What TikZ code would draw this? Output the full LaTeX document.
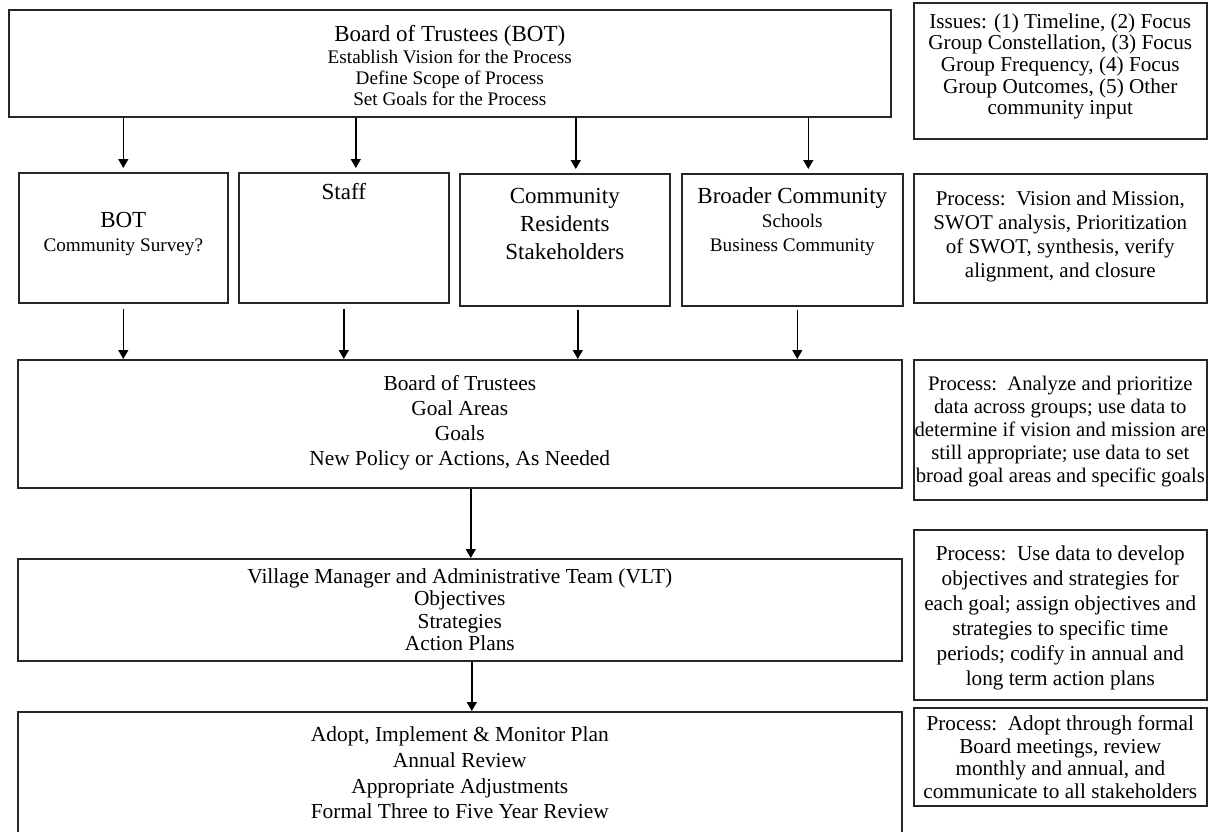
\documentclass[tikz,border=0pt]{standalone}
\usepackage{fontspec}
\setmainfont{Liberation Serif}
\usetikzlibrary{arrows.meta}
\newcommand{\headsize}{\fontsize{23}{28}\selectfont}
\begin{document}
\begin{tikzpicture}[
        x=1pt, y=-1pt,
        line width=1.6pt,
        every node/.style={align=center, inner sep=0pt},
        box/.style={draw=black!85, anchor=north west},
        wide/.style={box, minimum width=884pt, font=\fontsize{21.4}{24}\selectfont},
        group/.style={box, font=\fontsize{19.2}{24}\selectfont},
        note/.style={box, minimum width=293pt, font=\fontsize{21.2}{23}\selectfont},
        flow/.style={-{Triangle[length=9pt,width=10pt]}, draw=black, line width=1.4pt}
    ]
    \useasboundingbox (0,0) rectangle (1208,831);

    % board and the issues
    \node[box, minimum width=882pt, text height=96pt, text depth=11pt,
          font=\fontsize{19.2}{21}\selectfont] (trustees) at (8,9)
        {{\headsize Board of Trustees (BOT)}\\[1pt]
         Establish Vision for the Process\\
         Define Scope of Process\\
         Set Goals for the Process};
    \node[note, text height=112pt, text depth=24pt, font=\fontsize{21.2}{21.7}\selectfont] (issues) at (913,2)
        {Issues: (1) Timeline, (2) Focus\\
         Group Constellation, (3) Focus\\
         Group Frequency, (4) Focus\\
         Group Outcomes, (5) Other\\
         community input};

    % the four groups
    \node[group, minimum width=209pt, text height=79pt, text depth=51pt] (botgrp) at (18,172)
        {{\headsize BOT}\\ Community Survey?};
    \node[group, minimum width=210pt, text height=27pt, text depth=103pt] (staff) at (238,172)
        {{\headsize Staff}};
    \node[group, minimum width=210pt, text height=86pt, text depth=46pt,
          font=\fontsize{23}{28}\selectfont] (residents) at (459,173)
        {Community\\ Residents\\ Stakeholders};
    \node[group, minimum width=221pt, text height=78pt, text depth=54pt] (broader) at (681,173)
        {{\headsize Broader Community}\\ Schools\\ Business Community};
    \node[note, text height=104pt, text depth=25pt, font=\fontsize{21}{24}\selectfont] (proc1) at (913,173)
        {Process:\ \ Vision and Mission,\\
         SWOT analysis, Prioritization\\
         of SWOT, synthesis, verify\\
         alignment, and closure};

    % goals
    \node[wide, text height=106pt, text depth=22pt, font=\fontsize{21.4}{25}\selectfont] (goals) at (17,359)
        {Board of Trustees\\ Goal Areas\\ Goals\\ New Policy or Actions, As Needed};
    \node[note, text height=123pt, text depth=17pt, font=\fontsize{20.7}{23}\selectfont] (proc2) at (913,359)
        {Process:\ \ Analyze and prioritize\\
         data across groups; use data to\\
         determine if vision and mission are\\
         still appropriate; use data to set\\
         broad goal areas and specific goals};

    % objectives
    \node[wide, text height=92pt, text depth=10pt, font=\fontsize{21.4}{22.5}\selectfont] (vlt) at (17,558)
        {Village Manager and Administrative Team (VLT)\\ Objectives\\ Strategies\\ Action Plans};
    \node[note, text height=156pt, text depth=14pt, font=\fontsize{21.2}{25}\selectfont] (proc3) at (913,529)
        {Process:\ \ Use data to develop\\
         objectives and strategies for\\
         each goal; assign objectives and\\
         strategies to specific time\\
         periods; codify in annual and\\
         long term action plans};

    % monitoring
    \node[wide, text height=107pt, text depth=32pt, font=\fontsize{21.4}{25.7}\selectfont] (adopt) at (17,711)
        {Adopt, Implement \& Monitor Plan\\ Annual Review\\ Appropriate Adjustments\\ Formal Three to Five Year Review};
    \node[note, text height=90.5pt, text depth=7.5pt, font=\fontsize{21.2}{22.5}\selectfont] (proc4) at (913,707)
        {Process:\ \ Adopt through formal\\
         Board meetings, review\\
         monthly and annual, and\\
         communicate to all stakeholders};

    % arrows
    \draw[flow, shorten >=4pt] (trustees.south -| botgrp.north) -- (botgrp.north);
    \draw[flow, shorten >=4pt] ([xshift=12pt]trustees.south -| staff.north) -- ([xshift=12pt]staff.north);
    \draw[flow, shorten >=4pt] ([xshift=11pt]trustees.south -| residents.north) -- ([xshift=11pt]residents.north);
    \draw[flow, shorten >=4pt] ([xshift=16pt]trustees.south -| broader.north) -- ([xshift=16pt]broader.north);

    \draw[flow, shorten <=5pt] (botgrp.south) -- (botgrp.south |- goals.north);
    \draw[flow, shorten <=5pt] (staff.south) -- (staff.south |- goals.north);
    \draw[flow, shorten <=3pt] ([xshift=13pt]residents.south) -- ([xshift=13pt]residents.south |- goals.north);
    \draw[flow, shorten <=3pt] ([xshift=5pt]broader.south) -- ([xshift=5pt]broader.south |- goals.north);

    \draw[flow] ([xshift=11pt]goals.south) -- ([xshift=11pt]vlt.north);
    \draw[flow] ([xshift=12pt]vlt.south) -- ([xshift=12pt]adopt.north);
\end{tikzpicture}
\end{document}
